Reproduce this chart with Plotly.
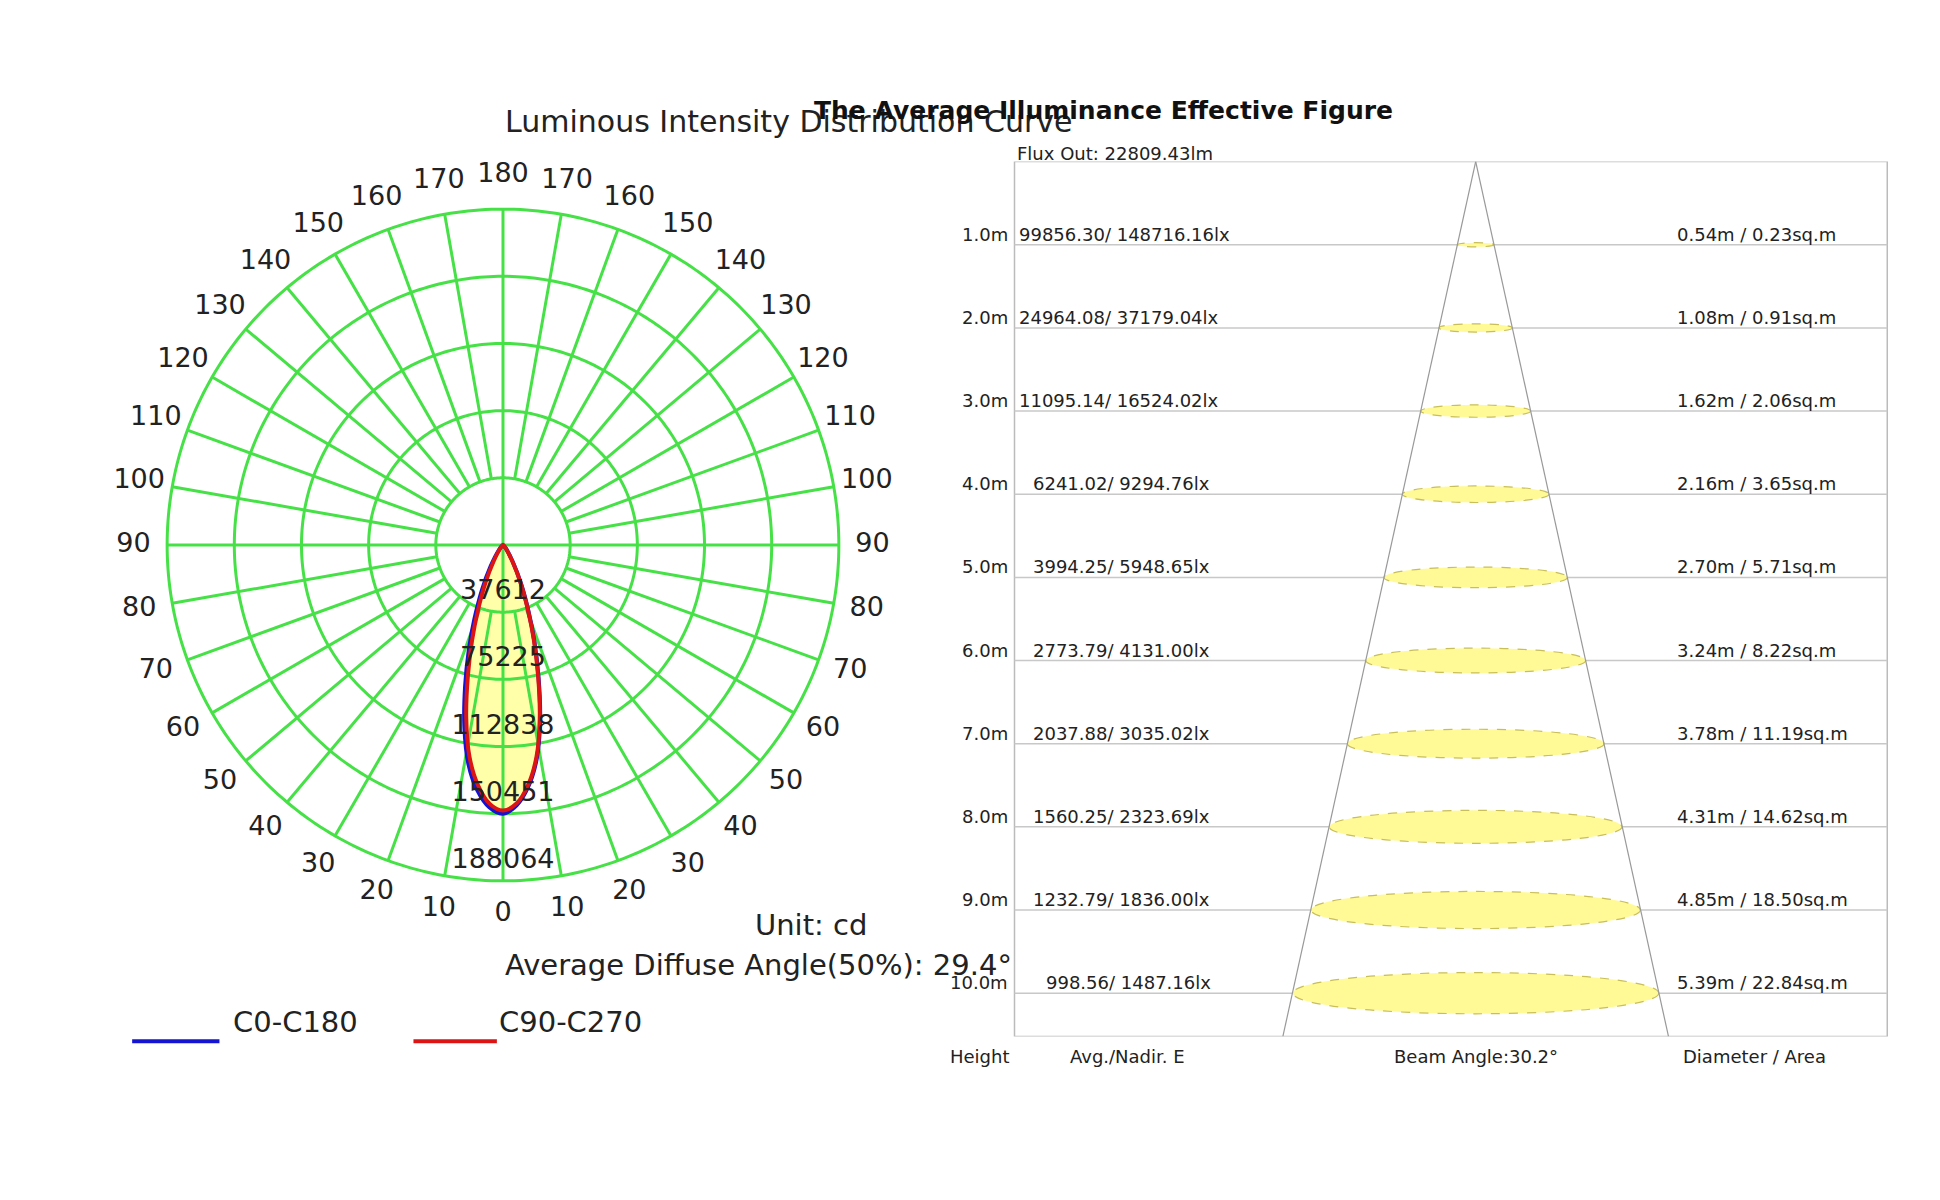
import numpy as np
import plotly.graph_objects as go

# ---- polar data (cd) ----
ring_vals = [37612, 75225, 112838, 150451, 188064]
angles_c0 = [0, 3, 6, 9, 12, 15, 18, 21, 25, 30, 40, 50, 60, 90]
int_c0_right = [150451, 147000, 138000, 124000, 104000, 82000, 62000, 45000, 28000, 14000, 3000, 600, 100, 0]
int_c0_left = [150451, 146000, 136000, 121000, 100000, 77000, 57000, 40000, 24000, 11000, 2500, 500, 100, 0]
int_c90 = [148716, 145000, 135000, 120000, 99000, 76000, 56000, 39000, 23000, 10500, 2400, 500, 100, 0]

# ---- illuminance figure data ----
heights = [1.0, 2.0, 3.0, 4.0, 5.0, 6.0, 7.0, 8.0, 9.0, 10.0]
avg_e = ["99856.30", "24964.08", "11095.14", "6241.02", "3994.25",
         "2773.79", "2037.88", "1560.25", "1232.79", "998.56"]
nadir_e = ["148716.16", "37179.04", "16524.02", "9294.76", "5948.65",
           "4131.00", "3035.02", "2323.69", "1836.00", "1487.16"]
diameters = [0.54, 1.08, 1.62, 2.16, 2.70, 3.24, 3.78, 4.31, 4.85, 5.39]
areas = ["0.23", "0.91", "2.06", "3.65", "5.71", "8.22", "11.19", "14.62", "18.50", "22.84"]
beam_angle = 30.2
flux = "22809.43"

GREEN = "rgb(70,225,70)"
FONT = "DejaVu Sans"
RMAX = ring_vals[-1]

fig = go.Figure()

def lobe(right, left):
    th = list(angles_c0) + [360 - a for a in angles_c0[::-1]]
    r = list(right) + list(left[::-1])
    return th, r

# yellow fill
th, r = lobe(int_c0_right, int_c0_left)
fig.add_trace(go.Scatterpolar(theta=th, r=r, mode="lines", fill="toself",
                              fillcolor="rgba(255,255,140,0.75)", line=dict(width=0, shape="spline"),
                              showlegend=False, hoverinfo="skip"))

# grid rings
circ = np.linspace(0, 360, 361)
for v in ring_vals:
    fig.add_trace(go.Scatterpolar(theta=circ, r=[v] * len(circ), mode="lines",
                                  line=dict(color=GREEN, width=3), showlegend=False, hoverinfo="skip"))
# spokes
for a in range(0, 360, 10):
    r0 = 0 if a % 90 == 0 else ring_vals[0]
    fig.add_trace(go.Scatterpolar(theta=[a, a], r=[r0, RMAX], mode="lines",
                                  line=dict(color=GREEN, width=3), showlegend=False, hoverinfo="skip"))

# curves
th, r = lobe(int_c0_right, int_c0_left)
fig.add_trace(go.Scatterpolar(theta=th, r=r, mode="lines",
                              line=dict(color="rgb(20,20,210)", width=4, shape="spline"),
                              showlegend=False, hoverinfo="skip"))
th, r = lobe(int_c90, int_c90)
fig.add_trace(go.Scatterpolar(theta=th, r=r, mode="lines",
                              line=dict(color="rgb(220,20,20)", width=4, shape="spline"),
                              showlegend=False, hoverinfo="skip"))

# ring labels
fig.add_trace(go.Scatterpolar(theta=[0] * len(ring_vals), r=[v - 11000 for v in ring_vals],
                              mode="text", text=[str(v) for v in ring_vals],
                              textfont=dict(family=FONT, size=27, color="#222"),
                              showlegend=False, hoverinfo="skip"))
# angle labels
ang = list(range(0, 360, 10))
fig.add_trace(go.Scatterpolar(theta=ang, r=[RMAX * 1.1] * len(ang), mode="text",
                              text=[str(a if a <= 180 else 360 - a) for a in ang],
                              textfont=dict(family=FONT, size=27, color="#222"),
                              showlegend=False, hoverinfo="skip"))

fig.update_layout(polar=dict(
    domain=dict(x=[0.0526, 0.4577], y=[0.225, 0.88]),
    bgcolor="white",
    angularaxis=dict(rotation=-90, direction="clockwise", showgrid=False, showticklabels=False,
                     ticks="", showline=False),
    radialaxis=dict(range=[0, RMAX * 1.17], showgrid=False, showticklabels=False,
                    ticks="", showline=False)))

# ---- right panel ----
half = np.tan(np.radians(beam_angle / 2))
ybot = 10.52
box_l, box_r = -6.79, 6.06
# invisible anchor trace so the cartesian axes exist
fig.add_trace(go.Scatter(x=[box_l, box_r], y=[0, ybot], mode="markers", marker=dict(opacity=0),
                         xaxis="x", yaxis="y", showlegend=False, hoverinfo="skip"))
fig.update_layout(
    xaxis=dict(domain=[0.474, 0.975], range=[-8.07, 6.24], visible=False, fixedrange=True),
    yaxis=dict(domain=[0.143, 0.872], range=[ybot, 0], visible=False, fixedrange=True))

fig.add_shape(type="rect", x0=box_l, x1=box_r, y0=0, y1=ybot, line=dict(color="#bbb", width=1.5))
for h, d in zip(heights, diameters):
    fig.add_shape(type="line", x0=box_l, x1=box_r, y0=h, y1=h, line=dict(color="#c8c8c8", width=1.5))
    e = d * 0.092
    fig.add_shape(type="circle", x0=-d / 2, x1=d / 2, y0=h - e / 2, y1=h + e / 2,
                  fillcolor="rgb(255,250,150)", line=dict(color="rgb(200,190,90)", width=1.2, dash="dash"))
fig.add_shape(type="line", x0=0, y0=0, x1=-half * ybot, y1=ybot, line=dict(color="#999", width=1.2))
fig.add_shape(type="line", x0=0, y0=0, x1=half * ybot, y1=ybot, line=dict(color="#999", width=1.2))

tf = dict(family=FONT, size=18, color="#222")
for h, a, n, d, ar in zip(heights, avg_e, nadir_e, diameters, areas):
    fig.add_annotation(x=-6.85, y=h, text=f"{h:.1f}m", xanchor="right", yanchor="bottom",
                       showarrow=False, font=tf, yshift=-2)
    fig.add_annotation(x=-6.75 if len(a) > 7 else -6.55 if len(a) > 6 else -6.35, y=h,
                       text=f"{a}/ {n}lx", xanchor="left", yanchor="bottom",
                       showarrow=False, font=tf, yshift=-2)
    fig.add_annotation(x=2.93, y=h, text=f"{d:.2f}m / {ar}sq.m", xanchor="left", yanchor="bottom",
                       showarrow=False, font=tf, yshift=-2)
fig.add_annotation(x=-6.78, y=0, text=f"Flux Out: {flux}lm", xanchor="left", yanchor="bottom",
                   showarrow=False, font=tf, yshift=-4)
for xx, t in [(-7.3, "Height"), (-5.13, "Avg./Nadir. E"), (0, f"Beam Angle:{beam_angle}°"),
              (4.1, "Diameter / Area")]:
    fig.add_annotation(x=xx, y=ybot, text=t, xanchor="center", yanchor="top",
                       showarrow=False, font=tf, yshift=-8)

# ---- titles & left texts ----
fig.add_annotation(x=0.2552, y=0.922, xref="paper", yref="paper", text="Luminous Intensity Distribution Curve",
                   showarrow=False, font=dict(family=FONT, size=30, color="#222"))
fig.add_annotation(x=0.7147, y=0.928, xref="paper", yref="paper", text="<b>The Average Illuminance Effective Figure</b>",
                   showarrow=False, font=dict(family=FONT, size=25, color="#111"))
fig.add_annotation(x=0.4438, y=0.22, xref="paper", yref="paper", text="Unit: cd", xanchor="right",
                   showarrow=False, font=dict(family=FONT, size=29, color="#222"))
fig.add_annotation(x=0.2552, y=0.187, xref="paper", yref="paper", text="Average Diffuse Angle(50%): 29.4°",
                   showarrow=False, font=dict(family=FONT, size=29, color="#222"))
# legend
for x0, x1, col, lab in [(0.064, 0.109, "rgb(20,20,210)", "C0-C180"),
                         (0.209, 0.252, "rgb(220,20,20)", "C90-C270")]:
    fig.add_shape(type="line", xref="paper", yref="paper", x0=x0, x1=x1, y0=0.139, y1=0.139,
                  line=dict(color=col, width=4))
    fig.add_annotation(x=x1 + 0.006 if col.startswith("rgb(20") else x1, y=0.139, xref="paper", yref="paper",
                       text=lab, xanchor="left", showarrow=False,
                       font=dict(family=FONT, size=29, color="#222"))

fig.update_layout(width=1940, height=1200, margin=dict(l=0, r=0, t=0, b=0),
                  paper_bgcolor="white", plot_bgcolor="white", showlegend=False)

fig.write_html("out.html")
